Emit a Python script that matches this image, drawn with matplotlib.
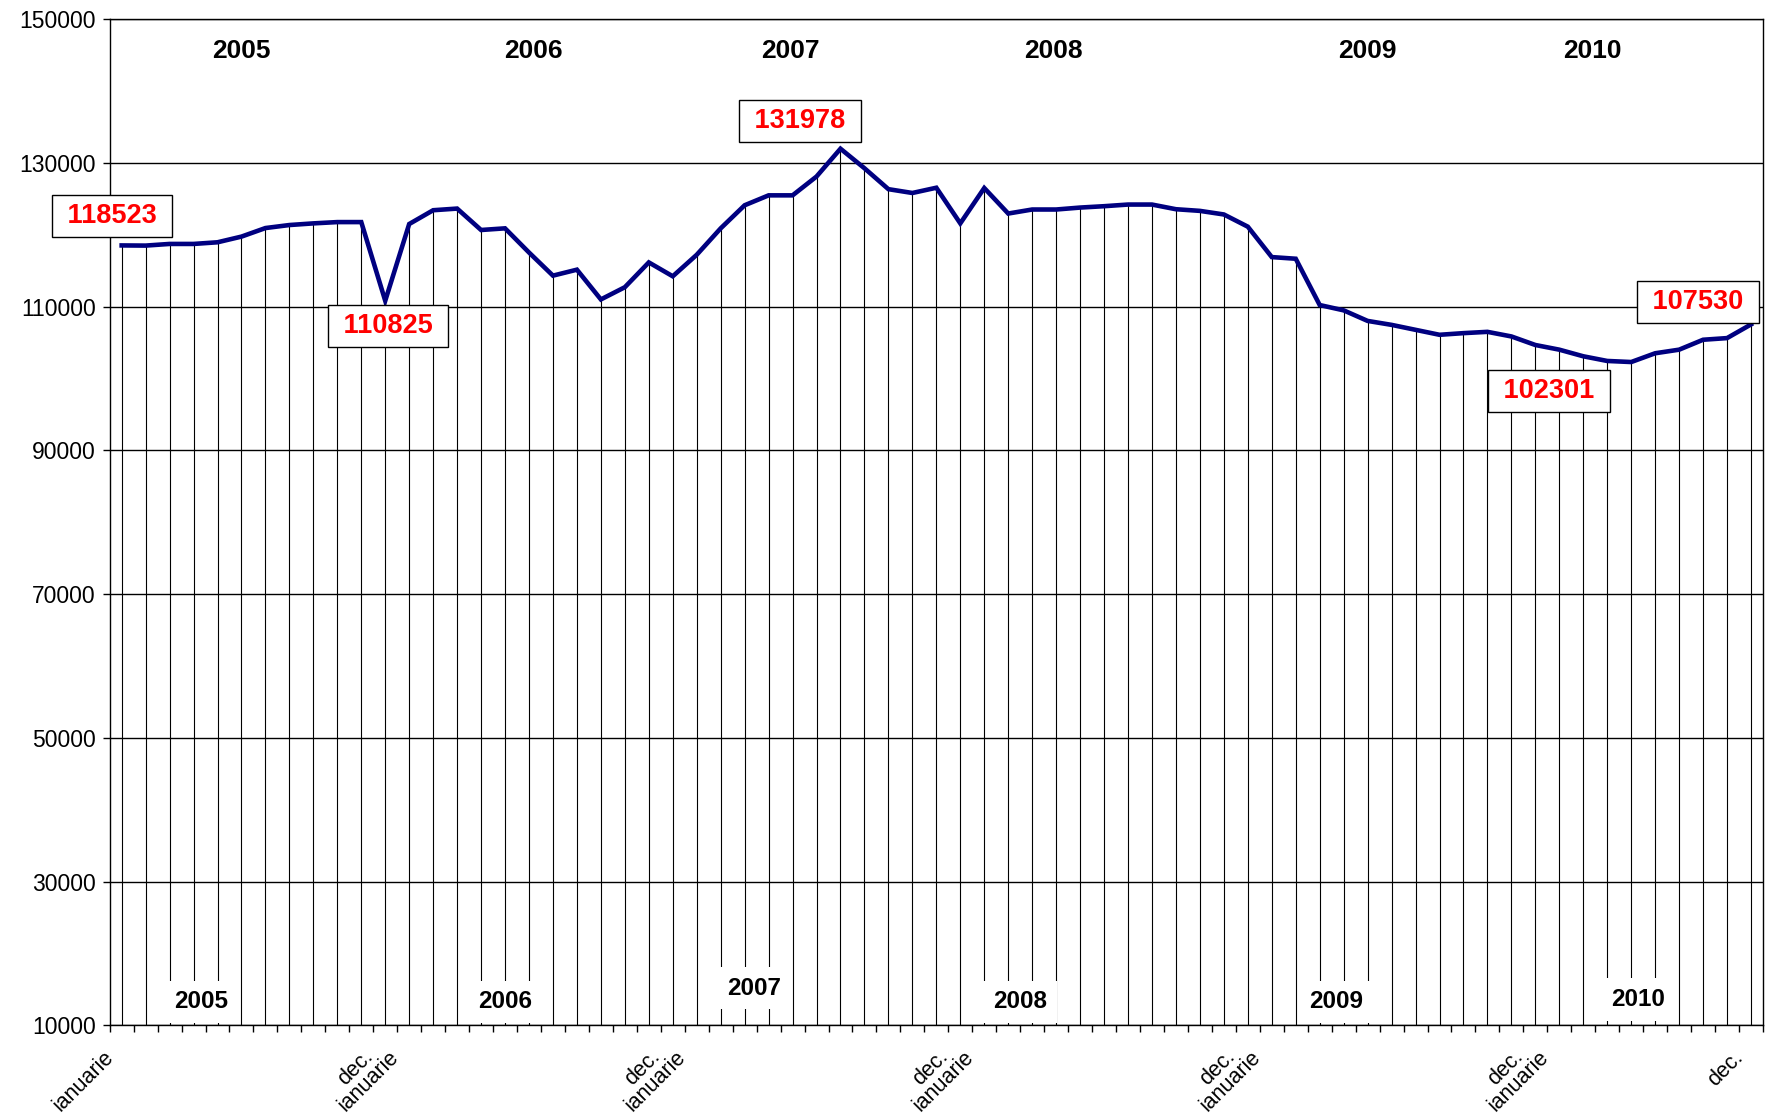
import numpy as np
import matplotlib.pyplot as plt

plt.rcParams['font.family'] = ['Liberation Sans', 'DejaVu Sans']

# lunar values, ianuarie 2005 - 2010
values = [118523, 118500, 118730, 118730, 118960, 119750, 120940, 121360, 121590, 121770, 121770, 110825,
          121500, 123420, 123650, 120670, 120900, 117540, 114320, 115150, 111010, 112710, 116160, 114230,
          117220, 120900, 124110, 125490, 125490, 128110, 131978, 129260, 126350, 125820, 126550, 121590,
          126510, 122960, 123520, 123520, 123790, 123980, 124210, 124210, 123560, 123330, 122830, 121130,
          116900, 116670, 110230, 109490, 108020, 107470, 106780, 106090, 106320, 106500, 105860, 104670,
          104020, 103100, 102450, 102301, 103520, 104020, 105400, 105630, 107530]

tick_idx = [0, 11, 23, 35, 47, 59, 68]
tick_labels = ['ianuarie', 'dec.\nianuarie', 'dec.\nianuarie', 'dec.\nianuarie',
               'dec.\nianuarie', 'dec.\nianuarie', 'dec.']

years = ['2005', '2006', '2007', '2008', '2009', '2010']
top_year_x = [5.0, 17.2, 27.9, 38.9, 52.0, 61.4]
bottom_year_x = [3.3, 16.0, 26.4, 37.5, 50.7, 63.3]
bottom_year_y = [13300, 13300, 15200, 13300, 13300, 13600]

# puncte marcate: indice, deplasare (puncte)
marked = [(0, (-7, 21)), (11, (2, -18)), (30, (-29, 20)), (63, (-59, -21)), (68, (-38, 16))]

x = np.arange(len(values))

fig = plt.figure(figsize=(17.69, 11.15), dpi=100)
ax = fig.add_axes([0.062, 0.0803, 0.9346, 0.9025])

ax.vlines(x, 10000, values, color='black', lw=0.8, zorder=2)
ax.plot(x, values, color='#000080', lw=3.3, zorder=4, solid_joinstyle='miter')

ax.set_xlim(-0.5, len(values) - 0.5)
ax.set_ylim(10000, 150000)
ax.set_yticks(range(10000, 150001, 20000))
ax.yaxis.grid(True, color='black', lw=1)
ax.set_axisbelow(True)
ax.tick_params(axis='y', labelsize=16.5, length=5, width=1, pad=5, direction='out')

ax.set_xticks([])
ax.set_xticks(np.arange(-0.5, len(values)), minor=True)
ax.tick_params(axis='x', which='minor', length=5, width=1, direction='out')

for s in ax.spines.values():
    s.set_linewidth(1)
    s.set_color('black')

for i, lab in zip(tick_idx, tick_labels):
    if '\n' in lab:
        dx, yy = 0.15, -0.022
    else:
        dx, yy = -0.45, -0.029
    ax.text(i + dx, yy, lab, transform=ax.get_xaxis_transform(), rotation=45,
            rotation_mode='anchor', ha='right', va='center', multialignment='center',
            fontsize=15.5, linespacing=0.85)

for yr, xx in zip(years, top_year_x):
    ax.text(xx, 145600, yr, ha='center', va='center', fontsize=19, fontweight='bold')

for yr, xx, yy in zip(years, bottom_year_x, bottom_year_y):
    ax.text(xx, yy, yr, ha='center', va='center', fontsize=17.5, fontweight='bold', zorder=3,
            bbox=dict(facecolor='white', edgecolor='none', pad=7))

for i, off in marked:
    ax.annotate(' %d ' % values[i], xy=(i, values[i]), xytext=off, textcoords='offset points',
                ha='center', va='center', fontsize=19.5, fontweight='bold', color='red', zorder=6,
                bbox=dict(boxstyle='square,pad=0.3', facecolor='white', edgecolor='black', lw=1))

fig.savefig('out.png', dpi=100)
